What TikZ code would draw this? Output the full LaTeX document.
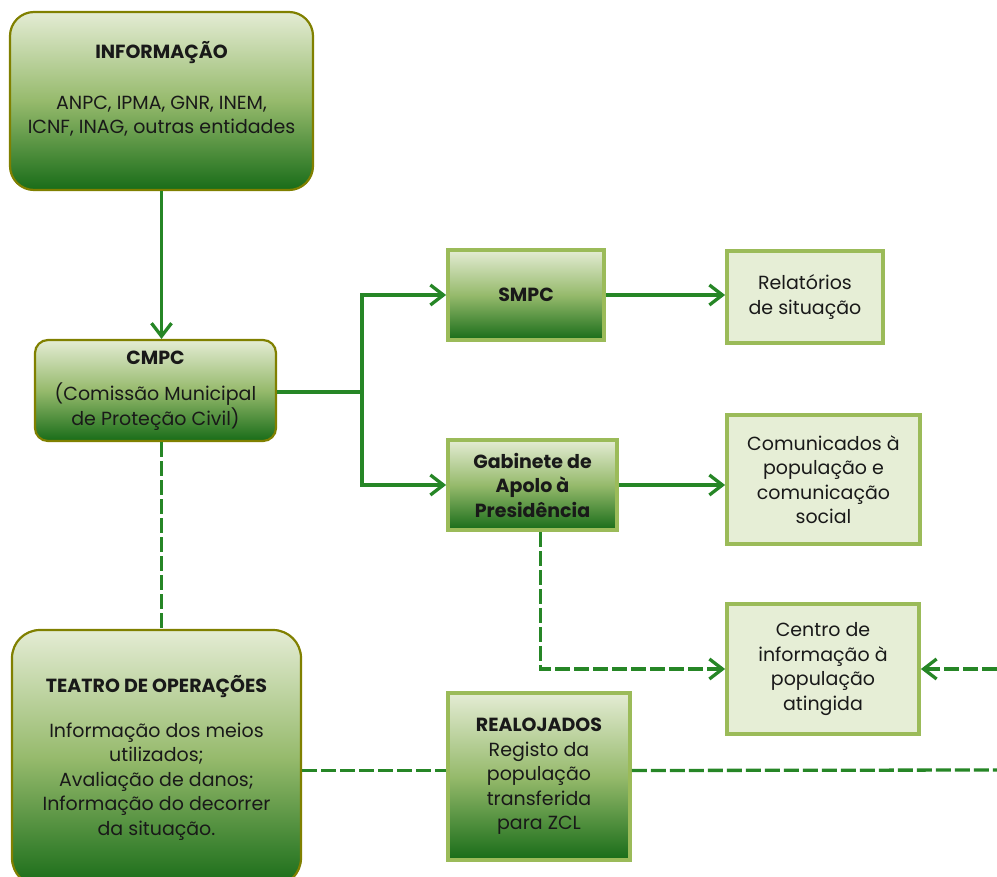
\documentclass[tikz,border=0pt]{standalone}
\usepackage{fontspec}
\setmainfont{Poppins}
\usetikzlibrary{arrows.meta}
\definecolor{linegreen}{RGB}{38,134,38}
\definecolor{olivebd}{RGB}{128,128,0}
\definecolor{lightbd}{RGB}{155,187,89}
\definecolor{paleback}{RGB}{230,238,214}
\definecolor{shadetop}{RGB}{228,236,212}
\definecolor{shademid}{RGB}{150,186,108}
\definecolor{shadebot}{RGB}{24,108,24}
\begin{document}
\begin{tikzpicture}[x=1pt, y=-1pt,
        every node/.style={font=\fontsize{19}{24.5}\selectfont, align=center, inner sep=2pt, text=black!90},
        roundbox/.style={draw=olivebd, line width=2.2pt, top color=shadetop, bottom color=shadebot, middle color=shademid},
        shadebox/.style={draw=lightbd, line width=3.8pt, top color=shadetop, bottom color=shadebot, middle color=shademid},
        palebox/.style={draw=lightbd, line width=3.8pt, fill=paleback},
        link/.style={draw=linegreen, line width=3.3pt},
        dashlink/.style={link, dash pattern=on 15pt off 4pt},
        tip/.style={-{Straight Barb[length=13pt,width=20pt]}}]
        \def \rightedge {997}  % right border of the page
        % page frame
        \useasboundingbox (0,0) rectangle (\rightedge,877);
        \clip (0,0) rectangle (\rightedge,877);
        % information sources
        \node[roundbox, rounded corners=24pt, minimum width=303pt, minimum height=178pt, text depth=27pt] (info) at (161.5,101)
            {{\bfseries INFORMAÇÃO}\\[26pt] ANPC, IPMA, GNR, INEM,\\ ICNF, INAG, outras entidades};
        % municipal commission
        \node[roundbox, rounded corners=13pt, minimum width=241pt, minimum height=101pt] (cmpc) at (155.5,390.5)
            {{\bfseries CMPC}\\[12pt] (Comissão Municipal\\ de Proteção Civil)};
        % services and cabinet
        \node[shadebox, minimum width=156pt, minimum height=90pt] (smpc) at (526,295) {\bfseries SMPC};
        \node[shadebox, minimum width=169pt, minimum height=90pt] (gab) at (532.5,485)
            {\bfseries Gabinete de\\ \bfseries Apolo à\\ \bfseries Presidência};
        % outputs
        \node[palebox, minimum width=156pt, minimum height=92pt] (relat) at (805,297) {Relatórios\\ de situação};
        \node[palebox, minimum width=193pt, minimum height=129pt] (comun) at (823.5,479.5)
            {Comunicados à\\ população e\\ comunicação\\ social};
        \node[palebox, minimum width=192pt, minimum height=130pt] (centro) at (823,669)
            {Centro de\\ informação à\\ população\\ atingida};
        % theatre of operations
        \node[roundbox, rounded corners=28pt, minimum width=289pt, minimum height=256pt] (teatro) at (156.5,758)
            {{\bfseries TEATRO DE OPERAÇÕES}\\[20pt] Informação dos meios\\ utilizados;\\ Avaliação de danos;\\
             Informação do decorrer\\ da situação.};
        % relocated people
        \node[shadebox, minimum width=182pt, minimum height=167pt] (realoj) at (539,776.5)
            {{\bfseries REALOJADOS}\\ Registo da\\ população\\ transferida\\ para ZCL};
        % free ends and branch point
        \coordinate (split) at (362,392);
        \coordinate (infoin) at (\rightedge,669);
        \coordinate (realout) at (\rightedge,770);
        % solid links
        \draw[link, tip] (info.south) -- (info.south |- cmpc.north);
        \draw[link] (cmpc.east |- split) -- (split);
        \draw[link, tip] (split) |- (smpc.west);
        \draw[link, tip] (split) |- (gab.west);
        \draw[link, tip] (smpc.east) -- (smpc.east -| relat.west);
        \draw[link, tip] (gab.east) -- (gab.east -| comun.west);
        % dashed links
        \draw[dashlink] (info.south |- cmpc.south) -- (info.south |- teatro.north);
        \draw[dashlink, tip] ([xshift=8pt]gab.south) |- (centro.west);
        \draw[dashlink, tip] (infoin) -- (centro.east);
        \draw[dashlink] ([yshift=6pt]realoj.west -| teatro.east) -- ([yshift=6pt]realoj.west);
        \draw[dashlink] ([yshift=6pt]realoj.east) -- (realout);
\end{tikzpicture}
\end{document}
